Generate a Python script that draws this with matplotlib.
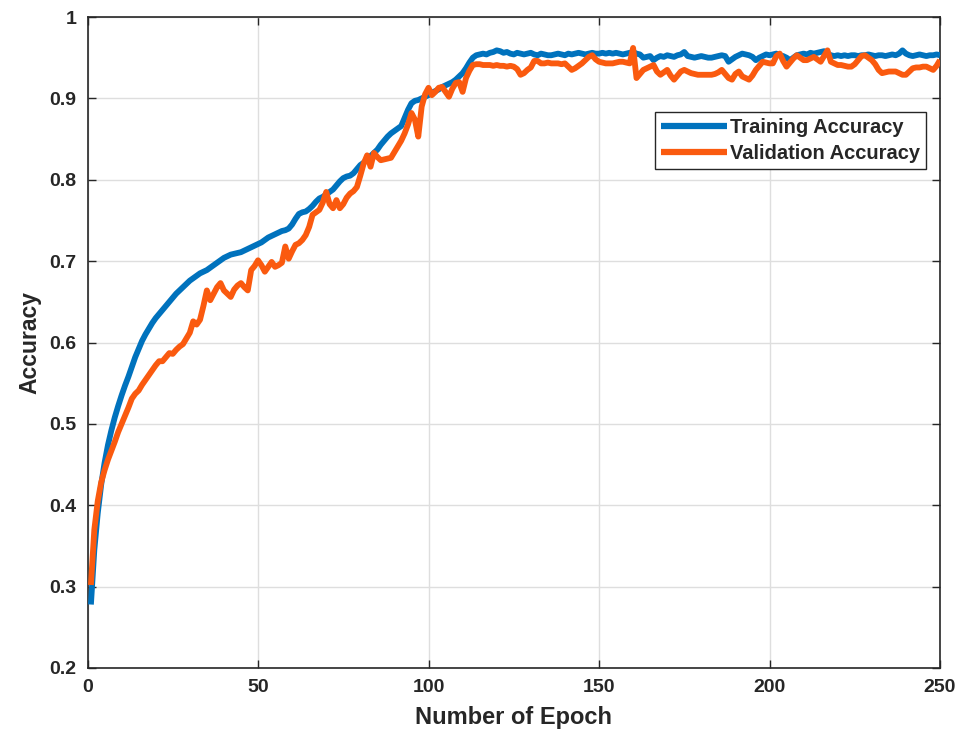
import matplotlib
matplotlib.use("Agg")
import matplotlib.pyplot as plt
import numpy as np

epochs = list(range(1, 251))

training_acc = [
    0.278, 0.345, 0.390, 0.425, 0.452, 0.474, 0.492, 0.508, 0.522, 0.535,
    0.547, 0.558, 0.570, 0.582, 0.592, 0.602, 0.610, 0.617, 0.624, 0.630,
    0.635, 0.640, 0.645, 0.650, 0.655, 0.660, 0.664, 0.668, 0.672, 0.676,
    0.679, 0.682, 0.685, 0.687, 0.689, 0.692, 0.695, 0.698, 0.701, 0.704,
    0.706, 0.708, 0.709, 0.710, 0.711, 0.713, 0.715, 0.717, 0.719, 0.721,
    0.723, 0.726, 0.729, 0.731, 0.733, 0.735, 0.737, 0.738, 0.740, 0.745,
    0.752, 0.758, 0.760, 0.761, 0.764, 0.768, 0.773, 0.777, 0.779, 0.782,
    0.785, 0.788, 0.793, 0.798, 0.802, 0.804, 0.805, 0.808, 0.813, 0.818,
    0.821, 0.825, 0.829, 0.833, 0.837, 0.843, 0.848, 0.853, 0.857, 0.860,
    0.863, 0.866, 0.876, 0.886, 0.894, 0.897, 0.898, 0.900, 0.902, 0.904,
    0.907, 0.909, 0.911, 0.914, 0.916, 0.918, 0.920, 0.923, 0.927, 0.931,
    0.937, 0.944, 0.950, 0.953, 0.954, 0.955, 0.954, 0.956, 0.957, 0.959,
    0.958, 0.956, 0.957, 0.955, 0.954, 0.956, 0.955, 0.954, 0.955, 0.956,
    0.954, 0.953, 0.955, 0.954, 0.953, 0.953, 0.954, 0.955, 0.954, 0.953,
    0.955, 0.954, 0.955, 0.956, 0.955, 0.954, 0.955, 0.956, 0.955, 0.955,
    0.956, 0.955, 0.956, 0.955, 0.956, 0.955, 0.954, 0.955, 0.956, 0.957,
    0.955, 0.954, 0.950, 0.951, 0.952, 0.947, 0.950, 0.952, 0.951, 0.953,
    0.952, 0.951, 0.953, 0.954, 0.957, 0.952, 0.951, 0.950, 0.951, 0.952,
    0.951, 0.950, 0.950, 0.951, 0.952, 0.953, 0.952, 0.945, 0.948, 0.951,
    0.953, 0.955, 0.954, 0.953, 0.951, 0.947, 0.950, 0.952, 0.954, 0.953,
    0.954, 0.955, 0.953, 0.952, 0.950, 0.947, 0.950, 0.953, 0.954, 0.955,
    0.954, 0.956, 0.955, 0.956, 0.957, 0.958, 0.955, 0.953, 0.952, 0.953,
    0.952, 0.953, 0.952, 0.953, 0.953, 0.952, 0.953, 0.953, 0.954, 0.953,
    0.952, 0.953, 0.953, 0.952, 0.953, 0.954, 0.953, 0.955, 0.959, 0.955,
    0.953, 0.952, 0.953, 0.954, 0.953, 0.952, 0.953, 0.953, 0.954, 0.953,
]

validation_acc = [
    0.302, 0.370, 0.405, 0.428, 0.443, 0.456, 0.467, 0.478, 0.490, 0.500,
    0.510, 0.520, 0.531, 0.537, 0.541, 0.548, 0.554, 0.560, 0.566, 0.572,
    0.577, 0.577, 0.582, 0.587, 0.586, 0.591, 0.595, 0.598, 0.605, 0.612,
    0.626, 0.622, 0.628, 0.645, 0.664, 0.652, 0.660, 0.668, 0.673, 0.664,
    0.660, 0.656, 0.665, 0.670, 0.673, 0.668, 0.664, 0.689, 0.694, 0.701,
    0.695, 0.687, 0.693, 0.699, 0.693, 0.695, 0.698, 0.718, 0.703, 0.712,
    0.720, 0.722, 0.726, 0.732, 0.742, 0.757, 0.760, 0.763, 0.772, 0.785,
    0.770, 0.765, 0.775, 0.765, 0.770, 0.778, 0.783, 0.786, 0.791, 0.805,
    0.820, 0.830, 0.816, 0.833, 0.828, 0.824, 0.825, 0.826, 0.827, 0.834,
    0.841, 0.848, 0.857, 0.868, 0.882, 0.874, 0.853, 0.890, 0.905, 0.913,
    0.904, 0.908, 0.913, 0.914, 0.908, 0.902, 0.912, 0.919, 0.920, 0.908,
    0.925, 0.934, 0.941, 0.942, 0.942, 0.941, 0.941, 0.941, 0.940, 0.941,
    0.940, 0.940, 0.939, 0.940, 0.939, 0.936, 0.929, 0.931, 0.935, 0.938,
    0.946, 0.946, 0.943, 0.943, 0.944, 0.943, 0.943, 0.943, 0.942, 0.943,
    0.939, 0.935, 0.937, 0.940, 0.943, 0.947, 0.951, 0.953, 0.948, 0.945,
    0.944, 0.943, 0.943, 0.943, 0.944, 0.945, 0.945, 0.944, 0.943, 0.962,
    0.925, 0.930, 0.935, 0.937, 0.939, 0.941, 0.933, 0.929, 0.932, 0.935,
    0.928, 0.923, 0.928, 0.933, 0.935, 0.933, 0.931, 0.930, 0.929, 0.929,
    0.929, 0.929, 0.929, 0.930, 0.932, 0.935, 0.930, 0.925, 0.923, 0.930,
    0.933, 0.927, 0.925, 0.923, 0.928, 0.935, 0.940, 0.945, 0.944, 0.943,
    0.943, 0.952, 0.955, 0.946, 0.939, 0.944, 0.949, 0.953, 0.950, 0.947,
    0.947, 0.949, 0.951, 0.948, 0.945, 0.952, 0.959, 0.945, 0.943, 0.941,
    0.941, 0.940, 0.939, 0.939, 0.942, 0.947, 0.952, 0.953, 0.950, 0.947,
    0.942, 0.935, 0.931, 0.932, 0.933, 0.933, 0.933, 0.931, 0.929, 0.929,
    0.933, 0.937, 0.938, 0.938, 0.939, 0.939, 0.937, 0.935, 0.940, 0.947,
]

x_ticks = [0, 50, 100, 150, 200, 250]
x_tick_labels = ["0", "50", "100", "150", "200", "250"]
y_ticks = [0.2, 0.3, 0.4, 0.5, 0.6, 0.7, 0.8, 0.9, 1.0]
y_tick_labels = ["0.2", "0.3", "0.4", "0.5", "0.6", "0.7", "0.8", "0.9", "1"]

plt.rcParams['font.family'] = ['Liberation Sans', 'DejaVu Sans']
plt.rcParams['font.weight'] = 'bold'

fig = plt.figure(figsize=(9.68, 7.38), dpi=100)
ax = fig.add_axes([87.5 / 968, 70 / 738, (940 - 87.5) / 968, (668 - 17) / 738])

blue = '#0072BD'
orange = '#FA5A0F'
ax.plot(epochs, training_acc, color=blue, lw=4.2, label='Training Accuracy',
        solid_joinstyle='round', solid_capstyle='butt', zorder=3)
ax.plot(epochs, validation_acc, color=orange, lw=4.2, label='Validation Accuracy',
        solid_joinstyle='round', solid_capstyle='butt', zorder=4)

ax.set_xlim(0, 250)
ax.set_ylim(0.2, 1.0)
ax.set_xticks(x_ticks)
ax.set_xticklabels(x_tick_labels)
ax.set_yticks(y_ticks)
ax.set_yticklabels(y_tick_labels)

ax.grid(True, color='#dedede', linewidth=1.0, zorder=0)
ax.set_axisbelow(True)

for s in ax.spines.values():
    s.set_color('#262626')
    s.set_linewidth(1.2)

ax.tick_params(axis='both', direction='in', length=6, width=1.0, color='#262626',
               labelsize=14, labelcolor='#262626', pad=8, top=True, right=True)
for lab in ax.get_xticklabels() + ax.get_yticklabels():
    lab.set_fontweight('bold')

ax.set_xlabel('Number of Epoch', fontsize=17, fontweight='bold', color='#262626', labelpad=7)
ax.set_ylabel('Accuracy', fontsize=16.5, fontweight='bold', color='#262626', labelpad=6)

leg = ax.legend(loc='upper right', bbox_to_anchor=(0.9836, 0.8545), fontsize=14.5,
                frameon=True, fancybox=False, framealpha=1.0, edgecolor='#262626',
                handlelength=3.25, handletextpad=0.15, borderpad=0.3, labelspacing=0.35,
                borderaxespad=0.0)
leg.get_frame().set_linewidth(1.0)
for t in leg.get_texts():
    t.set_fontweight('bold')
    t.set_color('#262626')
for h in leg.get_lines():
    h.set_linewidth(4.5)

fig.savefig('out.png', dpi=100)
